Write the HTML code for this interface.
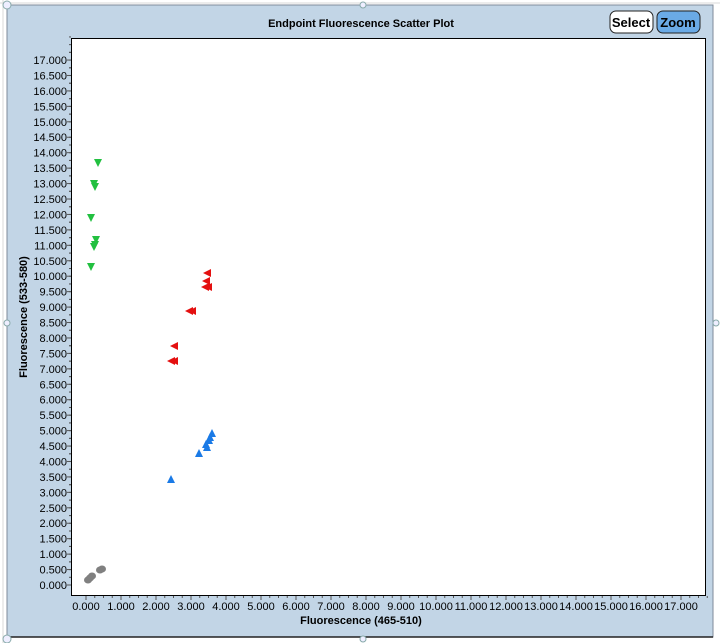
<!DOCTYPE html>
<html><head><meta charset="utf-8"><style>
html,body{margin:0;padding:0;background:#fff;width:720px;height:643px;overflow:hidden}
svg{display:block;font-family:"Liberation Sans",sans-serif}
</style></head><body>
<svg width="720" height="643" viewBox="0 0 720 643" xmlns="http://www.w3.org/2000/svg">
<line x1="0" y1="3" x2="720" y2="3" stroke="#d8d8d8"/>
<line x1="3" y1="0" x2="3" y2="643" stroke="#d8d8d8"/>
<rect x="7" y="5" width="706" height="632" fill="#c2d5e6" stroke="#7f8a99"/>
<line x1="7" y1="637" x2="713" y2="637" stroke="#222" stroke-width="1.5"/>
<circle cx="7" cy="5" r="4" fill="#eef" stroke="#8aa"/>
<circle cx="363" cy="5" r="3" fill="#eef" stroke="#8aa"/>
<circle cx="7" cy="323" r="3" fill="#eef" stroke="#8aa"/>
<circle cx="7" cy="639" r="4" fill="#eef" stroke="#8aa"/>
<circle cx="363" cy="639" r="3" fill="#eef" stroke="#8aa"/>
<circle cx="716" cy="323" r="3" fill="#eef" stroke="#8aa"/>
<text x="361" y="27" font-size="11" font-weight="bold" text-anchor="middle">Endpoint Fluorescence Scatter Plot</text>
<rect x="610" y="11" width="43" height="22" rx="6" fill="#fff" stroke="#222"/>
<text x="631" y="27" font-size="13" font-weight="bold" text-anchor="middle">Select</text>
<rect x="657" y="11" width="43" height="22" rx="6" fill="#6aaae6" stroke="#222"/>
<text x="678" y="27" font-size="13" font-weight="bold" text-anchor="middle">Zoom</text>
<rect x="71.5" y="38.5" width="634" height="557" fill="#fff" stroke="#000"/>
<g id="yt" font-size="11" text-anchor="end" fill="#000"></g>
<g id="xt" font-size="11" text-anchor="middle" fill="#000"></g>
<g id="tk" stroke="#555" stroke-width="1"></g>
<text x="361" y="624" font-size="11" font-weight="bold" text-anchor="middle">Fluorescence (465-510)</text>
<text transform="translate(27,317) rotate(-90)" font-size="11" font-weight="bold" text-anchor="middle">Fluorescence (533-580)</text>
<g id="pts"></g>
<script>
var ns="http://www.w3.org/2000/svg";
function el(p,t,a,txt){var e=document.createElementNS(ns,t);for(var k in a)e.setAttribute(k,a[k]);if(txt)e.textContent=txt;document.getElementById(p).appendChild(e);}
for(var i=0;i<=34;i++){var v=i*0.5,y=585-v*30.88;
 el('yt','text',{x:67,y:y+4},v.toFixed(3));
 el('tk','line',{x1:67,y1:y,x2:71,y2:y});
 el('tk','line',{x1:69,y1:y-7.7,x2:71,y2:y-7.7});
 el('tk','line',{x1:69,y1:y-15.4,x2:71,y2:y-15.4});
 el('tk','line',{x1:69,y1:y-23.1,x2:71,y2:y-23.1});}
for(var i=0;i<=17;i++){var x=86+i*35;
 el('xt','text',{x:x,y:610},i.toFixed(3));
 el('tk','line',{x1:x,y1:596,x2:x,y2:600});
 for(var j=1;j<4;j++)el('tk','line',{x1:x+j*8.75,y1:596,x2:x+j*8.75,y2:598});}
function dn(x,y){el('pts','polygon',{points:(x-4)+','+(y-4)+' '+(x+4)+','+(y-4)+' '+x+','+(y+4),fill:'#22c040'});}
function lf(x,y){el('pts','polygon',{points:(x+4)+','+(y-4)+' '+(x+4)+','+(y+4)+' '+(x-4)+','+y,fill:'#e41010'});}
function up(x,y){el('pts','polygon',{points:(x-4)+','+(y+4)+' '+(x+4)+','+(y+4)+' '+x+','+(y-4),fill:'#1a7ae6'});}
function dt(x,y){el('pts','ellipse',{cx:x,cy:y,rx:4,ry:3.5,fill:'#808080'});}
[[98,163],[94,184],[95,187],[91,218],[96,240],[95,245],[94,247],[91,267]].forEach(function(p){dn(p[0],p[1]);});
[[207,273],[206,281],[205,287],[208,287],[192,311],[189,311],[174,346],[174,361],[171,361]].forEach(function(p){lf(p[0],p[1]);});
[[171,479],[199,453],[207,447],[209,440],[210,437],[212,433],[206,444]].forEach(function(p){up(p[0],p[1]);});
[[88,580],[90,578],[92,576],[102,569],[100,570]].forEach(function(p){dt(p[0],p[1]);});
</script>
</svg>
</body></html>
